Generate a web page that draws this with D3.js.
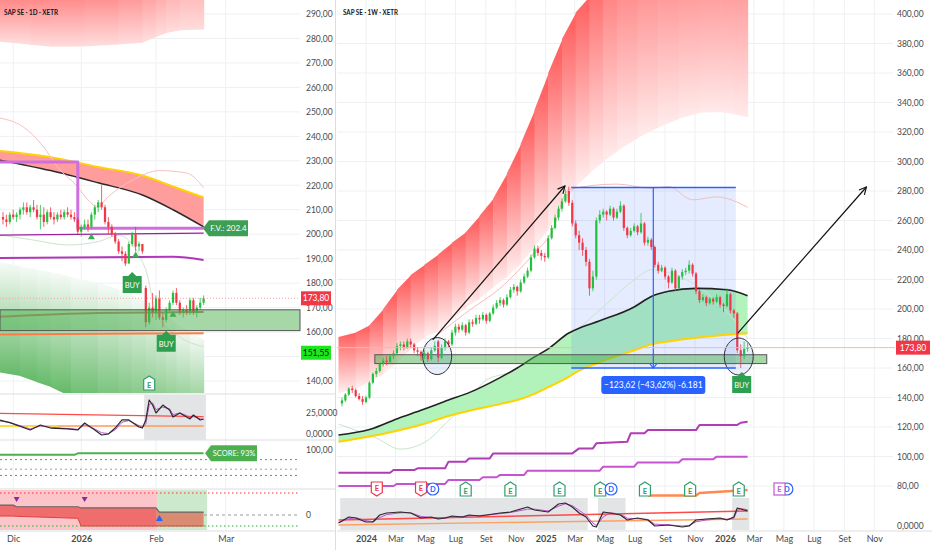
<!DOCTYPE html>
<html>
<head>
<meta charset="utf-8">
<script src="https://cdn.jsdelivr.net/npm/d3@7/dist/d3.min.js"></script>
<style>
  body { margin: 0; background: #fff; }
  svg { display: block; font-family: Lato, "Noto Sans", sans-serif; }
</style>
</head>
<body>
<svg id="chart" width="932" height="550"></svg>
<script>
// ---------- daily panel (left) ----------
const dTickIdx = [3, 23, 45, 65.5];
const dTickLab = ["Dic", "2026", "Feb", "Mar"];
const dPriceTicks = [140, 150, 160, 170, 180, 190, 200, 210, 220, 230, 240, 250, 260, 270, 280, 290];
// [open, high, low, close]
const dailyOHLC = [
  [207,209,204,206],[206,208,203,205],[205,209,204,208],[208,210,206,207],[207,209,205,208],
  [208,211,206,210],[210,213,208,211],[211,213,208,209],[209,212,207,211],[211,214,209,210],
  [210,212,206,207],[207,212,202,208],[208,211,203,205],[205,210,204,209],[209,211,206,207],
  [207,209,204,206],[206,209,205,208],[208,210,206,207],[207,210,206,209],[209,211,207,208],
  [208,210,206,207],[207,209,205,206],[206,207,200,201],[201,204,199,203],[203,206,202,204],
  [204,206,201,203],[203,209,202,208],[208,212,206,211],[211,214,209,213],[213,220,210,211],
  [211,212,204,205],[205,207,200,203],[203,204,199,200],[200,201,196,197],[197,198,192,193],
  [193,195,189,192],[192,193,187,188],[188,197,188,196],[196,201,195,200],[200,203,193,195],
  [195,197,193,196],[196,196,192,193],[178,179,162,164],[164,172,163,170],[170,176,166,168],
  [168,175,165,174],[174,177,165,166],[166,168,162,165],[165,170,164,169],[169,173,168,172],
  [172,177,171,176],[176,178,171,172],[172,173,167,168],[168,170,166,169],[169,171,167,168],
  [168,174,167,173],[173,174,167,168],[168,171,166,170],[170,174,169,172],[172,175,171,173.8]
];
const lastPrice = 173.80;
const dLowLabel = 151.55;

const dBandIdx = [-1, 8, 14, 24, 34, 41, 45, 48, 52, 59];
const dBandHi = [300, 300.5, 301, 302, 304, 308, 312, 316, 322, 330];
const dBandLo = [278.7, 277.4, 276.6, 276.7, 277.5, 278.3, 280.6, 282.2, 283.4, 283.7];

const dGreenIdx = [-1, 5, 10, 14, 20, 28, 34, 38, 42, 45, 48, 51, 55, 59];
const dGreenHi = [188.7, 187, 185.5, 184.6, 182.5, 180, 177.5, 175, 172.5, 170, 167, 163.5, 160, 156.8];
const dGreenLo = [143.5, 142, 139.5, 137.5, 133.5, 129, 126, 124, 122, 121, 120, 119, 118, 117];

const dMaIdx = [-1, 14, 28, 41, 50, 59];
const dYellow = [234, 231.5, 227.5, 224, 219.5, 215];
const dBlack = [230.3, 226, 221, 216, 210, 203];

const dUpIdx = [-1, 6, 12, 16, 22, 25, 28, 30, 38, 46, 54, 59];
const dUpVal = [247.5, 243.8, 235.6, 227.5, 219.3, 214, 211, 214, 222, 226, 225, 219];
const dLoIdx = [-1, 9, 19, 28, 34, 42, 45, 52, 59];
const dLoVal = [199.7, 197.6, 195.6, 197, 199.5, 185.4, 167.8, 158, 154];

const dFvIdx = [-1, 22, 22, 59];
const dFvVal = [229.5, 229.5, 202.4, 202.4];
const fairValue = 202.4;
const dMag1Idx = [-1, 59], dMag1 = [199.6, 200.4];
const dMag2Idx = [-1, 50, 59], dMag2 = [190.3, 190.8, 189.5];
const dZone = [160.6, 169.1];
const dBrownIdx = [-1, 28, 59], dBrown = [166.3, 167.8, 168.2];
const dOrangeIdx = [-1, 28, 59], dOrange = [159, 159.3, 159.5];

const dSigUpIdx = [26, 39, 50], dSigUpPrice = [199, 191.5, 167.3];
const dBuyIdx = [38, 48], dBuyPrice = [184.6, 160.5];
const dEarnIdx = 43;

const dOscIdx = [-1,2,8,11,14,19,22,24,27,29,31,33,35,37,40,41,42,43,44,45,47,49,50,52,54,55,56,58,59];
const dOscVal = [16.7,13.5,4.8,10.7,7.1,6,4.8,13.1,4.8,-1.2,0,7.1,16.7,16.7,8.3,7.1,16.7,40.5,34.5,25,34.5,28.6,20.2,25,20.2,17.9,22.6,16.7,17.9];
const dOscSig = [15.5,13.8,6,9.5,8,6.5,5.5,11,6,1.5,0.5,5,14,16,10,8,12,35,37,29,32,30,23,25,22,19,21,18,17.5];
const dOscRedIdx = [-1, 59], dOscRed = [24.6, 20.6];
const dOscOrgIdx = [-1, 16, 59], dOscOrg = [9.5, 9.5, 9.5];
const dOscShade = [[42, 59]];

const dScoreIdx = [-1, 21, 22, 59], dScore = [90, 90, 93, 93];
const scoreLevels = [80, 60, 47];

const dTrendIdx = [-1, 3, 4, 22, 23, 45, 46, 59];
const dTrendHi = [0.9, 0.9, 0.75, 0.75, 0.64, 0.64, 0.27, 0.27];
const dTrendLo = [-0.09, -0.1, -0.12, -0.3, -1, -1, -1, -1];
const dRegimeSwitch = 45.5;
const dSellIdx = [4, 24], dBullIdx = [46];

// ---------- weekly panel (right) ----------
const wTickDates = ["2024-01-01","2024-03-01","2024-05-01","2024-07-01","2024-09-01","2024-11-01",
  "2025-01-01","2025-03-01","2025-05-01","2025-07-01","2025-09-01","2025-11-01",
  "2026-01-01","2026-03-01","2026-05-01","2026-07-01","2026-09-01","2026-11-01"];
const wTickLab = ["2024","Mar","Mag","Lug","Set","Nov","2025","Mar","Mag","Lug","Set","Nov","2026","Mar","Mag","Lug","Set","Nov"];
const wPriceTicks = [80,100,120,140,160,180,200,220,240,260,280,300,320,340,360,380,400];
const firstWeek = "2023-11-13";
const weeklyOHLC = [
  [136,140,134,138],[138,143,137,142],[142,147,141,146],[146,148,143,145],[145,146,140,141],
  [141,143,138,139],[139,141,135,137],[137,141,136,140],[140,151,139,150],[150,157,149,156],
  [156,160,154,158],[158,164,157,163],[163,167,161,165],[165,168,162,164],[164,169,163,168],
  [168,172,166,170],[170,177,169,175],[175,178,172,176],[176,178,172,174],[174,180,173,178],
  [178,180,174,176],[176,177,170,172],[172,174,168,171],[171,172,165,168],[168,172,166,170],
  [170,171,164,166],[166,174,165,172],[172,178,171,175],[178,179,164,167],[167,176,166,174],
  [174,180,172,178],[178,179,174,176],[176,186,175,184],[184,190,182,188],[188,190,184,186],
  [186,191,185,189],[189,190,182,184],[184,193,183,191],[191,193,188,190],[190,196,189,194],
  [194,196,190,193],[193,198,192,196],[196,197,190,192],[192,198,191,197],[197,203,196,201],
  [201,206,200,204],[204,208,202,206],[206,207,201,203],[203,210,202,208],[208,215,207,213],
  [213,217,211,215],[215,216,209,212],[212,220,211,218],[218,224,217,222],[222,228,221,226],
  [226,237,225,235],[235,243,234,241],[241,243,236,238],[238,240,233,236],[236,238,232,235],
  [235,250,234,248],[248,257,247,255],[255,264,254,262],[262,270,260,268],[268,275,266,273],
  [273,281,272,278],[280,283,270,272],[272,274,256,258],[258,260,248,250],[250,253,240,245],
  [245,248,236,240],[240,242,229,232],[232,234,209,214],[214,226,212,222],[222,262,220,260],
  [260,267,258,264],[264,268,262,266],[266,267,260,264],[264,270,263,268],[268,269,260,262],
  [262,268,261,266],[266,273,265,270],[270,271,253,255],[255,256,248,250],[250,255,249,253],
  [253,258,252,256],[256,257,250,252],[252,265,251,258],[258,259,243,245],[245,249,243,247],
  [247,248,240,242],[242,243,228,230],[230,232,224,226],[226,230,225,228],[228,229,220,222],
  [222,223,214,218],[218,228,217,226],[226,227,212,214],[214,223,213,222],[222,227,220,225],
  [225,228,223,226],[226,233,224,230],[230,231,222,224],[224,225,210,212],[212,213,204,206],
  [206,210,205,208],[208,209,202,204],[204,208,203,207],[207,208,203,205],[205,210,204,208],
  [208,209,201,203],[203,204,198,202],[202,214,201,210],[210,211,197,199],[199,200,194,197],
  [197,198,170,172],[172,176,160,168],[168,178,166,173],[173,177,171,174]
];

const wBandIdx = [-1,4,8,12,16,20,24,28,32,36,40,44,48,52,56,60,64,68,72,76,80,86,92,98,104,110,114,118];
const wBandHi = [181,184,189,200,213,223,230,237,245,252,263,275,292,312,335,360,383,401,412,440,455,465,470,472,474,475,476,476];
const wBandLo = [143,146,150.5,156,164,173,181,185,193,201,207,215,222,231,242,254,270,283,292,300,307,316,323,329,333,333.5,332,330];

const wMaIdx = [-1,8,17,23,31,37,46,51,56,60,66,68,75,85,90,95,103,112,118];
const wBlack = [114.6,118.3,126.5,131.3,138.3,143.3,153.5,160,167.5,173,183.7,186,192,201.4,208.5,212,214,213,209];
const wYellow = [110,113.5,118,121.5,127.5,131,135.5,138.3,142.5,147,154,157,164,172,176,178,180.5,182.5,183.5];

const wUpIdx = [27,37,46,56,61,66,80,90,95,102,109,118];
const wUpVal = [181,199,214,238,252,281,284.7,281.8,283,274,276,269];
const wLoIdx = [-1,5,10,17,25,30,37,42,56,66,76,85,90,95,105,114,118];
const wLoVal = [122,117,112.5,105,111,122,138,152,160.7,181,201.4,219.7,226.6,224.5,213,192.5,180];

const wPurAIdx = [-1,14,15,21,22,30,31,36,37,43,44,67,69,73,74,83,84,88,89,103,104,115,116,118];
const wPurA = [89,89,90.8,90.8,92,92,96.5,96.5,98.7,98.7,102.1,102.1,105.5,105.5,108.9,110,115.7,115.7,117.9,117.9,121.4,121.4,122.9,123.5];
const wPurBIdx = [-1,15,16,30,31,40,41,45,46,53,54,75,76,85,86,98,99,108,109,118];
const wPurB = [80,80,81.4,81.4,84.1,84.1,85.9,85.9,87.5,87.5,90.4,90.4,93.1,93.1,95.9,95.9,98.1,98.1,99.9,99.9];
const wOrangeIdx = [89,103,104,118], wOrange = [73.6,73.6,75.3,77.3];

const wZone = [163, 169], wZoneDates = ["2024-01-19", "2026-03-27"];
const measDates = ["2025-02-22", "2026-01-23", "2025-08-08"], measPrices = [282.3, 160];
const measText = "\u2212123,62 (\u221243,62%) -6.181";
const arrows = [
  { from: ["2024-05-16", 179], to: ["2025-02-09", 283.4] },
  { from: ["2026-01-27", 183.7], to: ["2026-10-16", 282.7] }
];
const circles = [["2024-05-25", 168.1], ["2026-01-29", 167.8]];
const wBuy = ["2026-02-04", 157.3];

const earnDates = ["2024-01-23","2024-04-22","2024-07-22","2024-10-21","2025-01-29","2025-04-22","2025-07-22","2025-10-22","2026-01-29"];
const earnBeat = [false, false, true, true, true, true, true, true, true];
const earnNext = "2026-04-22";
const divDates = ["2024-05-16", "2025-05-14", "2026-05-07"];

const wOscIdx = [-1,2,4,7,9,11,13,17,20,23,26,28,30,32,35,37,40,42,46,49,54,56,60,63,65,67,69,71,73,74,76,78,81,83,86,89,91,95,99,101,103,106,110,112,114,115,116,118];
const wOscVal = [5,15,13.3,6.7,6.7,18.3,21.7,23.3,21.7,13.3,15,11.7,13.3,16.7,15,18.3,16.7,18.3,21.7,23.3,31.7,26.7,23.3,36.7,38.3,31.7,21.7,15,0,-1.7,23.3,21.7,18.3,10,13.3,10,0,1.7,-1.7,0,10,11.7,13.3,10,15,30,28.3,25];
const wOscSig = [6,12,14,9,7,14,19,22,22,16,14,13,13,15,15.5,17,17.5,18,20.5,22.5,28,28,25,33,37,34,26,18,5,1,15,22,20,13,12,11,3,2,0,1,7,10,12,11,13,26,29,27];
const wOscRedIdx = [-1, 118], wOscRed = [10, 25];
const wOscOrgIdx = [-1, 118], wOscOrg = [1.7, 11.7];
const wOscShade = [[0, 71], [75, 82], [114, 118]];

// ---------- setup ----------
const svg = d3.select("#chart");
const defs = svg.append("defs");
const UP = "#22c03c", DN = "#f23645", GRID = "#eef0f3";
const loc = d3.formatLocale({ decimal: ",", thousands: ".", grouping: [3], currency: ["", "€"] });
const f2 = loc.format(".2f"), f4 = loc.format(".4f");
const parse = d3.timeParse("%Y-%m-%d");

svg.append("rect").attr("width", 932).attr("height", 550).attr("fill", "#fff");

const xD = d3.scaleLinear().domain([0, 59]).range([3, 203.6]);
const yD = d3.scaleLinear().domain([140, 290]).range([381, 14]);
const yOscD = d3.scaleLinear().domain([0, 25]).range([434, 413]);
const yScore = d3.scaleLinear().domain([50, 100]).range([474, 450]);
const yTrend = d3.scaleLinear().domain([-1, 2]).range([526, 493]);

const weekStart = parse(firstWeek);
const xW = d3.scaleTime().domain([parse("2024-01-01"), parse("2026-01-01")]).range([366, 725]);
const wx = i => xW(new Date(+weekStart + i * 7 * 864e5));
const yW = d3.scaleLinear().domain([80, 400]).range([486, 14]);
const yOscW = d3.scaleLinear().domain([0, 50]).range([526, 496]);

defs.append("clipPath").attr("id", "cL").append("rect").attr("x", 0).attr("y", 0).attr("width", 300).attr("height", 393);
defs.append("clipPath").attr("id", "cR").append("rect").attr("x", 337).attr("y", 0).attr("width", 556).attr("height", 497);

let gid = 0;
function gradBand(g, xs, hi, lo, y, c, a0, a1) {
  const mix = d3.interpolateRgb("#ffffff", c);
  for (let k = 0; k < xs.length - 1; k++) {
    const id = "gb" + (gid++);
    const gr = defs.append("linearGradient").attr("id", id).attr("gradientUnits", "userSpaceOnUse")
      .attr("x1", 0).attr("x2", 0)
      .attr("y1", y((hi[k] + hi[k + 1]) / 2)).attr("y2", y((lo[k] + lo[k + 1]) / 2));
    gr.append("stop").attr("offset", 0).attr("stop-color", mix(a0));
    gr.append("stop").attr("offset", 1).attr("stop-color", mix(a1));
    const x0 = xs[k], x1 = xs[k + 1] + 0.6;
    g.append("path")
      .attr("d", `M${x0},${y(hi[k])}L${x1},${y(hi[k + 1])}L${x1},${y(lo[k + 1])}L${x0},${y(lo[k])}Z`)
      .attr("fill", `url(#${id})`);
  }
}
function pathLine(g, idx, vals, xf, yf, color, width, curve, dash) {
  const pts = idx.map((k, j) => [xf(k), yf(vals[j])]);
  return g.append("path").attr("d", d3.line().curve(curve || d3.curveMonotoneX)(pts))
    .attr("fill", "none").attr("stroke", color).attr("stroke-width", width)
    .attr("stroke-dasharray", dash || null).attr("stroke-linejoin", "round");
}
function drawCandles(g, data, xf, yf, w) {
  const c = g.selectAll("g.c").data(data).join("g").attr("class", "c");
  c.append("line").attr("x1", (d, i) => xf(i)).attr("x2", (d, i) => xf(i))
    .attr("y1", d => yf(d[1])).attr("y2", d => yf(d[2]))
    .attr("stroke", d => d[3] >= d[0] ? UP : DN).attr("stroke-width", 0.8);
  c.append("rect").attr("x", (d, i) => xf(i) - w / 2).attr("width", w)
    .attr("y", d => yf(Math.max(d[0], d[3])))
    .attr("height", d => Math.max(0.8, Math.abs(yf(d[0]) - yf(d[3]))))
    .attr("fill", d => d[3] >= d[0] ? UP : DN);
}
function tagLeft(g, x, y, w, h, text, fill, fs) {
  g.append("path").attr("d", `M${x},${y}L${x + 6},${y - h / 2}H${x + 6 + w}V${y + h / 2}H${x + 6}Z`).attr("fill", fill);
  g.append("text").attr("x", x + 6 + w / 2).attr("y", y + 3).attr("text-anchor", "middle")
    .attr("fill", "#fff").attr("font-size", fs || 8).text(text);
}
function buyTag(g, cx, ty) {
  g.append("path").attr("d", `M${cx},${ty}L${cx + 4},${ty + 4}H${cx + 9.5}V${ty + 21}H${cx - 9.5}V${ty + 4}H${cx - 4}Z`)
    .attr("fill", "#2e9e4f");
  g.append("text").attr("x", cx).attr("y", ty + 16).attr("text-anchor", "middle")
    .attr("fill", "#fff").attr("font-size", 7.5).text("BUY");
}
function eMarker(g, x, y, color, down) {
  const w = 5.5, h = 7;
  const d = down
    ? `M${x - w},${y - h}H${x + w}V${y + h - 3.5}L${x},${y + h}L${x - w},${y + h - 3.5}Z`
    : `M${x - w},${y + h}H${x + w}V${y - h + 3.5}L${x},${y - h}L${x - w},${y - h + 3.5}Z`;
  g.append("path").attr("d", d).attr("fill", "#fff").attr("stroke", color).attr("stroke-width", 1.2);
  g.append("text").attr("x", x).attr("y", y + (down ? 1.8 : 4.6)).attr("text-anchor", "middle")
    .attr("font-size", 7.5).attr("font-weight", 700).attr("fill", color).text("E");
}
function dMarker(g, x, y) {
  g.append("circle").attr("cx", x).attr("cy", y).attr("r", 6).attr("fill", "#fff").attr("stroke", "#2962ff").attr("stroke-width", 1.2);
  g.append("text").attr("x", x).attr("y", y + 2.8).attr("text-anchor", "middle")
    .attr("font-size", 7.5).attr("font-weight", 700).attr("fill", "#2962ff").text("D");
}
function priceBox(x, y, w, text, fill, tc) {
  svg.append("rect").attr("x", x).attr("y", y - 7).attr("width", w).attr("height", 14).attr("fill", fill);
  svg.append("text").attr("x", x + w / 2).attr("y", y + 3).attr("text-anchor", "middle")
    .attr("font-size", 8.5).attr("fill", tc).text(text);
}
function styleAxis(g, size) {
  g.select(".domain").remove();
  g.selectAll("text").attr("font-size", size || 8.5).attr("font-family", "Lato, 'Noto Sans', sans-serif").attr("fill", "#4a4a4a");
}

// ---------- grid ----------
const grid = svg.append("g");
dPriceTicks.forEach(p => grid.append("line").attr("x1", 0).attr("x2", 300).attr("y1", yD(p)).attr("y2", yD(p)).attr("stroke", GRID));
dTickIdx.forEach(i => grid.append("line").attr("x1", xD(i)).attr("x2", xD(i)).attr("y1", 0).attr("y2", 531).attr("stroke", GRID));
wPriceTicks.forEach(p => grid.append("line").attr("x1", 337).attr("x2", 893).attr("y1", yW(p)).attr("y2", yW(p)).attr("stroke", GRID));
wTickDates.forEach(d => grid.append("line").attr("x1", xW(parse(d))).attr("x2", xW(parse(d))).attr("y1", 0).attr("y2", 531).attr("stroke", GRID));

// pane separators
const sep = svg.append("g").attr("stroke", "#dcdde0");
[394, 440, 489, 531].forEach(y => sep.append("line").attr("x1", 0).attr("x2", 335).attr("y1", y).attr("y2", y));
sep.append("line").attr("x1", 337).attr("x2", 932).attr("y1", 531).attr("y2", 531);
sep.append("line").attr("x1", 335.5).attr("x2", 335.5).attr("y1", 0).attr("y2", 550);

// ---------- left main pane ----------
const L = svg.append("g").attr("clip-path", "url(#cL)");
gradBand(L, dBandIdx.map(xD), dBandHi, dBandLo, yD, "#ff5252", 0.8, 0.2);
gradBand(L, dGreenIdx.map(xD), dGreenHi, dGreenLo, yD, "#4caf50", 0.06, 0.85);

L.append("path").attr("d", d3.area().curve(d3.curveMonotoneX)
  .x((k) => xD(k)).y0((k, j) => yD(dBlack[j])).y1((k, j) => yD(dYellow[j]))(dMaIdx))
  .attr("fill", "#ff9c9c");
pathLine(L, dMaIdx, dYellow, xD, yD, "#ffd200", 2);
pathLine(L, dMaIdx, dBlack, xD, yD, "#2a2a2a", 1.5);
pathLine(L, dUpIdx, dUpVal, xD, yD, "#f7c0c0", 1);
pathLine(L, dLoIdx, dLoVal, xD, yD, "#cfe3cf", 1);
pathLine(L, dMag1Idx, dMag1, xD, yD, "#9c1f9c", 1.3);
pathLine(L, dMag2Idx, dMag2, xD, yD, "#b236b8", 2);
pathLine(L, dFvIdx, dFvVal, xD, yD, "#cf6fdf", 3, d3.curveLinear);

svg.append("line").attr("x1", 0).attr("x2", 300).attr("y1", yD(lastPrice)).attr("y2", yD(lastPrice))
  .attr("stroke", "#f5a5a5").attr("stroke-dasharray", "1,2");
svg.append("rect").attr("x", 0).attr("width", 300).attr("y", yD(dZone[1])).attr("height", yD(dZone[0]) - yD(dZone[1]))
  .attr("fill", "rgba(76,175,80,0.5)").attr("stroke", "#555").attr("stroke-width", 1);
pathLine(L, dBrownIdx, dBrown, xD, yD, "#b0845e", 2);
pathLine(L, dOrangeIdx, dOrange, xD, yD, "#ff7a45", 2);

drawCandles(L.append("g"), dailyOHLC, xD, yD, 2.2);

dSigUpIdx.forEach((k, j) => {
  const x = xD(k), y = yD(dSigUpPrice[j]);
  L.append("path").attr("d", `M${x},${y - 3.5}L${x + 3.5},${y + 2.5}H${x - 3.5}Z`).attr("fill", "#3daa55");
});
dBuyIdx.forEach((k, j) => buyTag(svg, xD(k), yD(dBuyPrice[j])));
eMarker(svg, xD(dEarnIdx), 383, "#2e9e6a", false);
tagLeft(svg, 203, yD(fairValue), 39, 16, "F.V.: " + fairValue, "#3d9e54");

// ---------- left oscillator pane ----------
dOscShade.forEach(([a, b]) => svg.append("rect").attr("x", xD(a) - 1.7).attr("width", xD(b) - xD(a) + 4)
  .attr("y", 395).attr("height", 45).attr("fill", "#e3e4e6"));
pathLine(svg, dOscRedIdx, dOscRed, xD, yOscD, "#ff4a4a", 1.3);
pathLine(svg, dOscOrgIdx.slice(0, 2), dOscOrg.slice(0, 2), xD, yOscD, "#f5d20a", 1.3);
pathLine(svg, dOscOrgIdx.slice(1), dOscOrg.slice(1), xD, yOscD, "#ff9a5a", 1.3);
pathLine(svg, dOscIdx, dOscSig, xD, yOscD, "#c050d0", 1, d3.curveLinear);
pathLine(svg, dOscIdx, dOscVal, xD, yOscD, "#2a2a2a", 1.2, d3.curveLinear);

// ---------- left score pane ----------
const lvlColors = ["#22c03c", "#9a9ab8", "#ff4a4a"];
scoreLevels.forEach((v, j) => svg.append("line").attr("x1", 0).attr("x2", 300).attr("y1", yScore(v)).attr("y2", yScore(v))
  .attr("stroke", lvlColors[j]).attr("stroke-dasharray", "2,3"));
pathLine(svg, dScoreIdx, dScore, xD, yScore, "#4caf50", 2, d3.curveLinear);
tagLeft(svg, 205, yScore(dScore[dScore.length - 1]), 46, 16, "SCORE: 93%", "#4caf50", 7.5);

// ---------- left trend pane ----------
svg.append("rect").attr("x", 0).attr("width", xD(dRegimeSwitch)).attr("y", 490).attr("height", 40).attr("fill", "#fbc5c9");
svg.append("rect").attr("x", xD(dRegimeSwitch)).attr("width", xD(59) + 3.5 - xD(dRegimeSwitch)).attr("y", 490).attr("height", 40).attr("fill", "#cde9cd");
svg.append("line").attr("x1", 0).attr("x2", 300).attr("y1", yTrend(2)).attr("y2", yTrend(2)).attr("stroke", "#ff3030").attr("stroke-dasharray", "1.5,2.5");
svg.append("line").attr("x1", 0).attr("x2", 300).attr("y1", yTrend(0)).attr("y2", yTrend(0)).attr("stroke", "#999").attr("stroke-dasharray", "3,3");
svg.append("line").attr("x1", 0).attr("x2", 300).attr("y1", yTrend(-1)).attr("y2", yTrend(-1)).attr("stroke", "#22b030").attr("stroke-dasharray", "1.5,2.5");
const trendPts = dTrendIdx.map((k, j) => ({ x: xD(k), hi: dTrendHi[j], lo: dTrendLo[j], k }));
svg.append("path").attr("d", d3.area().x(d => d.x).y0(d => yTrend(d.lo)).y1(d => yTrend(d.hi))(trendPts.filter(d => d.k <= 46)))
  .attr("fill", "#f06d6d");
svg.append("path").attr("d", d3.area().x(d => d.x).y0(d => yTrend(d.lo)).y1(d => yTrend(d.hi))(trendPts.filter(d => d.k >= 45)))
  .attr("fill", "#d98c72");
pathLine(svg, dTrendIdx, dTrendHi, xD, yTrend, "#666", 1.2, d3.curveLinear);
pathLine(svg, dTrendIdx, dTrendLo, xD, yTrend, "#e04040", 1, d3.curveLinear);
dSellIdx.forEach(k => svg.append("path").attr("d", `M${xD(k) - 3},497H${xD(k) + 3}L${xD(k)},502Z`).attr("fill", "#8e2a9e"));
dBullIdx.forEach(k => svg.append("path").attr("d", `M${xD(k) - 3.5},521H${xD(k) + 3.5}L${xD(k)},515Z`).attr("fill", "#2962ff"));

// ---------- left axes ----------
// the 150 label sits under the 151,55 price box in the reference
const dLabelTicks = dPriceTicks.filter(p => Math.abs(yD(p) - yD(dLowLabel)) > 8);
svg.append("g").attr("transform", "translate(303,0)")
  .call(d3.axisRight(yD).tickValues(dLabelTicks).tickFormat(f2).tickSize(0).tickPadding(3)).call(g => styleAxis(g));
svg.append("g").attr("transform", "translate(303,0)")
  .call(d3.axisRight(yOscD).tickValues([0, 25]).tickFormat(f4).tickSize(0).tickPadding(3)).call(g => styleAxis(g));
svg.append("g").attr("transform", "translate(303,0)")
  .call(d3.axisRight(yScore).tickValues([100]).tickFormat(f2).tickSize(0).tickPadding(3)).call(g => styleAxis(g));
svg.append("g").attr("transform", "translate(303,0)")
  .call(d3.axisRight(yTrend).tickValues([0]).tickFormat(d3.format("d")).tickSize(0).tickPadding(3)).call(g => styleAxis(g));
svg.append("g").attr("transform", "translate(0,533)")
  .call(d3.axisBottom(xD).tickValues(dTickIdx).tickFormat((d, i) => dTickLab[i]).tickSize(0).tickPadding(3))
  .call(g => { styleAxis(g, 9); g.selectAll("text").attr("font-weight", (d, i) => /^\d{4}$/.test(dTickLab[i]) ? 700 : 400); });
priceBox(301, yD(lastPrice), 30, f2(lastPrice), "#f23645", "#fff");
priceBox(301, yD(dLowLabel), 30, f2(dLowLabel), "#1ee61e", "#111");
svg.append("text").attr("x", 4).attr("y", 15).attr("font-size", 8).attr("font-weight", 700).attr("fill", "#131722")
  .attr("textLength", 54).attr("lengthAdjust", "spacingAndGlyphs").text("SAP SE · 1D · XETR");

// ---------- right main pane ----------
const R = svg.append("g").attr("clip-path", "url(#cR)");
gradBand(R, wBandIdx.map(wx), wBandHi, wBandLo, yW, "#ff5252", 0.9, 0.12);
R.append("path").attr("d", d3.area().curve(d3.curveMonotoneX)
  .x(k => wx(k)).y0((k, j) => yW(wYellow[j])).y1((k, j) => yW(wBlack[j]))(wMaIdx))
  .attr("fill", "#b2f2bb");

const mx0 = xW(parse(measDates[0])), mx1 = xW(parse(measDates[1])), mxm = xW(parse(measDates[2]));
const my0 = yW(measPrices[0]), my1 = yW(measPrices[1]);
R.append("rect").attr("x", mx0).attr("y", my0).attr("width", mx1 - mx0).attr("height", my1 - my0).attr("fill", "rgba(41,98,255,0.12)");

pathLine(R, wUpIdx, wUpVal, wx, yW, "#f5bcbc", 1);
pathLine(R, wLoIdx, wLoVal, wx, yW, "#c9e6c9", 1);
pathLine(R, wMaIdx, wYellow, wx, yW, "#ffd200", 2);
pathLine(R, wMaIdx, wBlack, wx, yW, "#222", 1.6);
pathLine(R, wPurAIdx, wPurA, wx, yW, "#b03cb6", 2, d3.curveLinear);
pathLine(R, wPurBIdx, wPurB, wx, yW, "#c653cf", 2, d3.curveLinear);
pathLine(R, wOrangeIdx, wOrange, wx, yW, "#ff8a50", 2.5, d3.curveLinear);

svg.append("line").attr("x1", 337).attr("x2", 895).attr("y1", yW(lastPrice)).attr("y2", yW(lastPrice)).attr("stroke", "#f9b4b4");
R.append("rect").attr("x", xW(parse(wZoneDates[0]))).attr("width", xW(parse(wZoneDates[1])) - xW(parse(wZoneDates[0])))
  .attr("y", yW(wZone[1])).attr("height", yW(wZone[0]) - yW(wZone[1]))
  .attr("fill", "rgba(76,175,80,0.5)").attr("stroke", "#555");

drawCandles(R.append("g"), weeklyOHLC, wx, yW, 2.2);

circles.forEach(([d, p]) => R.append("ellipse").attr("cx", xW(parse(d))).attr("cy", yW(p)).attr("rx", 14.5).attr("ry", 18.5)
  .attr("fill", "rgba(90,140,230,0.14)").attr("stroke", "#333").attr("stroke-width", 1));

// measurement lines
R.append("line").attr("x1", mx0).attr("x2", mx1).attr("y1", my0).attr("y2", my0).attr("stroke", "#2962ff").attr("stroke-width", 1.5);
R.append("line").attr("x1", mx0).attr("x2", mx1).attr("y1", my1).attr("y2", my1).attr("stroke", "#2962ff").attr("stroke-width", 1.5);
R.append("line").attr("x1", mxm).attr("x2", mxm).attr("y1", my0).attr("y2", my1).attr("stroke", "#2962ff").attr("stroke-width", 1.2);
R.append("path").attr("d", `M${mxm - 4},${my1 - 5}L${mxm},${my1}L${mxm + 4},${my1 - 5}`).attr("fill", "none").attr("stroke", "#2962ff").attr("stroke-width", 1.2);
svg.append("rect").attr("x", mxm - 52).attr("y", my1 + 8).attr("width", 104).attr("height", 18).attr("rx", 3).attr("fill", "#2962ff");
svg.append("text").attr("x", mxm).attr("y", my1 + 20).attr("text-anchor", "middle").attr("font-size", 8.5).attr("fill", "#fff").text(measText);

// arrows
defs.append("marker").attr("id", "ah").attr("viewBox", "0 0 10 10").attr("refX", 9).attr("refY", 5)
  .attr("markerWidth", 9).attr("markerHeight", 9).attr("markerUnits", "userSpaceOnUse").attr("orient", "auto")
  .append("path").attr("d", "M1,1L9,5L1,9").attr("fill", "none").attr("stroke", "#111").attr("stroke-width", 1.3);
arrows.forEach(a => svg.append("line")
  .attr("x1", xW(parse(a.from[0]))).attr("y1", yW(a.from[1]))
  .attr("x2", xW(parse(a.to[0]))).attr("y2", yW(a.to[1]))
  .attr("stroke", "#111").attr("stroke-width", 1.2).attr("marker-end", "url(#ah)"));

buyTag(svg, xW(parse(wBuy[0])), yW(wBuy[1]));

// event markers
earnDates.forEach((d, j) => eMarker(svg, xW(parse(d)), 489, earnBeat[j] ? "#2e9e6a" : "#f23645", !earnBeat[j]));
divDates.forEach(d => dMarker(svg, xW(parse(d)), 489));
{
  const x = xW(parse(earnNext));
  svg.append("rect").attr("x", x - 5.5).attr("y", 483).attr("width", 11).attr("height", 12).attr("fill", "#fff").attr("stroke", "#c05ad0").attr("stroke-width", 1.2);
  svg.append("text").attr("x", x).attr("y", 492).attr("text-anchor", "middle").attr("font-size", 7.5).attr("font-weight", 700).attr("fill", "#c05ad0").text("E");
}

// ---------- right oscillator pane ----------
wOscShade.forEach(([a, b]) => svg.append("rect").attr("x", wx(a) - 1.7).attr("width", wx(b) - wx(a) + 3.4)
  .attr("y", 498).attr("height", 32).attr("fill", "#e3e4e6"));
pathLine(svg, wOscRedIdx, wOscRed, wx, yOscW, "#ff4a4a", 1.3);
pathLine(svg, wOscOrgIdx, wOscOrg, wx, yOscW, "#ffa060", 1.3);
pathLine(svg, wOscIdx, wOscSig, wx, yOscW, "#c050d0", 1, d3.curveLinear);
pathLine(svg, wOscIdx, wOscVal, wx, yOscW, "#2a2a2a", 1.2, d3.curveLinear);

// ---------- right axes ----------
svg.append("g").attr("transform", "translate(894,0)")
  .call(d3.axisRight(yW).tickValues(wPriceTicks).tickFormat(f2).tickSize(0).tickPadding(3)).call(g => styleAxis(g));
svg.append("g").attr("transform", "translate(894,0)")
  .call(d3.axisRight(yOscW).tickValues([0]).tickFormat(f4).tickSize(0).tickPadding(3)).call(g => styleAxis(g));
svg.append("g").attr("transform", "translate(0,533)")
  .call(d3.axisBottom(xW).tickValues(wTickDates.map(parse)).tickFormat((d, i) => wTickLab[i]).tickSize(0).tickPadding(3))
  .call(g => { styleAxis(g, 9); g.selectAll("text").attr("font-weight", (d, i) => /^\d{4}$/.test(wTickLab[i]) ? 700 : 400); });
priceBox(896, yW(lastPrice), 34, f2(lastPrice), "#f23645", "#fff");
svg.append("text").attr("x", 343).attr("y", 15).attr("font-size", 8).attr("font-weight", 700).attr("fill", "#131722")
  .attr("textLength", 55).attr("lengthAdjust", "spacingAndGlyphs").text("SAP SE · 1W · XETR");
</script>
</body>
</html>
